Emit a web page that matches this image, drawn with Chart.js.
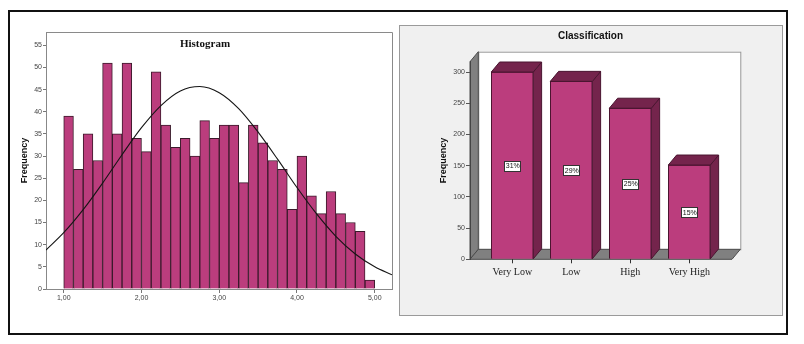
<!DOCTYPE html>
<html><head><meta charset="utf-8">
<script src="https://cdn.jsdelivr.net/npm/chart.js@4.4.1/dist/chart.umd.min.js"></script>
<style>
html,body{margin:0;padding:0;background:#fff;width:804px;height:344px;overflow:hidden}
#frame{position:absolute;left:8px;top:10px;width:780px;height:325px;border:2px solid #111;box-sizing:border-box}
#panel{position:absolute;left:399px;top:25px;width:384px;height:291px;background:#f0f0f0;border:1px solid #9a9a9a;box-sizing:border-box}
#c1{position:absolute;left:0;top:0}
#c2{position:absolute;left:396px;top:0}
</style></head><body>
<div id="frame"></div><div id="panel"></div>
<canvas id="c1" width="396" height="344"></canvas>
<canvas id="c2" width="408" height="344"></canvas>
<script>
// ---- Histogram data ----
const histBinStart = 1.0;
const histBinWidth = 0.125;
const histCounts = [39,27,35,29,51,35,51,34,31,49,37,32,34,30,38,34,37,37,24,37,33,29,27,18,30,21,17,22,17,15,13,2];
const histXTicks = [1,2,3,4,5];
// normal curve
const curveX = [0.772,1.0,1.25,1.5,1.75,2.0,2.25,2.5,2.75,3.0,3.25,3.5,3.75,4.0,4.25,4.5,4.75,5.0,5.222];
const curveY = [8.8,12.7,17.9,23.9,30.3,36.4,41.4,44.7,45.7,44.3,40.7,35.4,29.3,22.9,17.0,11.9,7.9,5.0,3.2];

// ---- Classification data ----
const classCategories = ['Very Low','Low','High','Very High'];
const classCounts = [300,285,242,151];
const classPercents = ['31%','29%','25%','15%'];

const BAR = '#bb3d7d', BAR_DARK = '#74244c', BAR_EDGE = '#4a1530';

// ---------- Histogram chart ----------
const histCenters = histCounts.map((_, i) => histBinStart + histBinWidth * (i + 0.5));
const histFrame = {
  id:'histFrame',
  afterDraw(chart){
    const {ctx, chartArea:a} = chart;
    ctx.save();
    ctx.strokeStyle = '#8a8a8a'; ctx.lineWidth = 1;
    ctx.beginPath();
    ctx.moveTo(a.left, a.top + 0.5); ctx.lineTo(a.right + 0.5, a.top + 0.5); ctx.lineTo(a.right + 0.5, a.bottom);
    ctx.stroke();
    ctx.fillStyle = '#111';
    ctx.font = 'bold 11px "Liberation Serif", "Times New Roman", serif';
    ctx.textAlign = 'center'; ctx.textBaseline = 'middle';
    ctx.fillText('Histogram', 205, 44);
    ctx.restore();
  }
};
new Chart(document.getElementById('c1'), {
  type:'bar',
  data:{datasets:[
    {type:'line', data: curveX.map((x,i)=>({x, y:curveY[i]})), borderColor:'#151515', borderWidth:1.1,
     pointRadius:0, cubicInterpolationMode:'monotone', order:0},
    {type:'bar', data: histCenters.map((x,i)=>({x, y:histCounts[i]})), backgroundColor:BAR, borderColor:'#3b1a2b',
     borderWidth:1, barPercentage:1, categoryPercentage:1, order:1}
  ]},
  options:{
    responsive:false, animation:false, events:[],
    layout:{padding:{left:0, top:32, right:4, bottom:35}},
    plugins:{legend:{display:false}, tooltip:{enabled:false}},
    scales:{
      x:{type:'linear', min:0.772, max:5.222, offset:false,
         afterBuildTicks:s=>{ s.ticks = histXTicks.map(v=>({value:v})); },
         ticks:{callback:v=>v.toFixed(2).replace('.',','), font:{size:7, family:'Arial'}, color:'#444', padding:1, maxRotation:0},
         grid:{drawOnChartArea:false, offset:false, tickLength:4, color:'#777'}, border:{color:'#888'},
         afterFit:s=>{s.height=20;}},
      y:{min:0, max:58,
         ticks:{stepSize:5, includeBounds:false, font:{size:7, family:'Arial'}, color:'#444', padding:1},
         grid:{drawOnChartArea:false, tickLength:3, color:'#777'}, border:{color:'#888'},
         title:{display:true, text:'Frequency', font:{size:9, weight:'bold', family:'Arial'}, color:'#111', padding:{top:19,bottom:0}},
         afterFit:s=>{s.width=46;}}
    }
  },
  plugins:[histFrame]
});

// ---------- Classification 3D bar chart ----------
const DX = 8.3, DY = 10;
const threeD = {
  id:'threeD',
  beforeDraw(chart){
    const {ctx, chartArea:a} = chart;
    ctx.save();
    // back wall
    ctx.fillStyle = '#fff';
    ctx.fillRect(a.left + DX, a.top - DY, a.right - a.left, a.bottom - a.top);
    ctx.strokeStyle = '#999'; ctx.lineWidth = 1;
    ctx.strokeRect(a.left + DX + 0.5, a.top - DY + 0.5, a.right - a.left, a.bottom - a.top);
    // left wall
    ctx.fillStyle = '#808080'; ctx.strokeStyle = '#4a4a4a';
    ctx.beginPath();
    ctx.moveTo(a.left, a.bottom); ctx.lineTo(a.left, a.top);
    ctx.lineTo(a.left + DX, a.top - DY); ctx.lineTo(a.left + DX, a.bottom - DY);
    ctx.closePath(); ctx.fill(); ctx.stroke();
    // floor
    ctx.beginPath();
    ctx.moveTo(a.left, a.bottom); ctx.lineTo(a.right, a.bottom);
    ctx.lineTo(a.right + DX, a.bottom - DY); ctx.lineTo(a.left + DX, a.bottom - DY);
    ctx.closePath(); ctx.fill(); ctx.stroke();
    ctx.restore();
  },
  afterDatasetsDraw(chart){
    const {ctx} = chart;
    const meta = chart.getDatasetMeta(0);
    ctx.save();
    ctx.lineWidth = 1; ctx.strokeStyle = BAR_EDGE; ctx.fillStyle = BAR_DARK;
    meta.data.forEach((bar, i) => {
      const {x, y, base, width} = bar.getProps(['x','y','base','width'], true);
      const l = x - width/2, r = x + width/2;
      // side
      ctx.beginPath();
      ctx.moveTo(r, y); ctx.lineTo(r + DX, y - DY); ctx.lineTo(r + DX, base - DY); ctx.lineTo(r, base);
      ctx.closePath(); ctx.fill(); ctx.stroke();
      // top
      ctx.beginPath();
      ctx.moveTo(l, y); ctx.lineTo(l + DX, y - DY); ctx.lineTo(r + DX, y - DY); ctx.lineTo(r, y);
      ctx.closePath(); ctx.fill(); ctx.stroke();
    });
    // percent labels
    ctx.font = '7px Arial'; ctx.textAlign = 'center'; ctx.textBaseline = 'middle';
    const ys = chart.scales.y;
    meta.data.forEach((bar, i) => {
      const cx = bar.x, cy = ys.getPixelForValue(classCounts[i] / 2);
      const w = 16, h = 10;
      ctx.fillStyle = '#fff'; ctx.strokeStyle = '#333';
      ctx.fillRect(Math.round(cx - w/2), Math.round(cy - h/2), w, h);
      ctx.strokeRect(Math.round(cx - w/2) + 0.5, Math.round(cy - h/2) + 0.5, w, h);
      ctx.fillStyle = '#111';
      ctx.fillText(classPercents[i], cx + 0.5, cy + 0.5);
    });
    // title
    ctx.fillStyle = '#111';
    ctx.font = 'bold 10px Arial';
    ctx.fillText('Classification', 590.5 - 396, 36);
    ctx.restore();
  }
};
new Chart(document.getElementById('c2'), {
  type:'bar',
  data:{datasets:[{
    data: classCounts.map((v,i)=>({x:i, y:v})),
    backgroundColor:BAR, borderColor:BAR_EDGE, borderWidth:1, barThickness:42
  }]},
  options:{
    responsive:false, animation:false, events:[],
    layout:{padding:{left:0, top:61.7, right:72, bottom:64.7}},
    plugins:{legend:{display:false}, tooltip:{enabled:false}},
    scales:{
      x:{type:'linear', min:-0.717, max:3.723, offset:false,
         afterBuildTicks:s=>{ s.ticks = classCategories.map((_,i)=>({value:i})); },
         ticks:{callback:(v)=>classCategories[v], font:{size:10, family:'"Liberation Serif", "Times New Roman", serif'}, color:'#222', padding:3, maxRotation:0, autoSkip:false},
         grid:{drawOnChartArea:false, offset:false, tickLength:4, color:'#333'}, border:{display:false},
         afterFit:s=>{s.height=20;}},
      y:{min:0, max:316.5,
         ticks:{stepSize:50, includeBounds:false, font:{size:7, family:'Arial'}, color:'#444', padding:1},
         grid:{drawOnChartArea:false, tickLength:4, color:'#555'}, border:{color:'#444'},
         title:{display:true, text:'Frequency', font:{size:9, weight:'bold', family:'Arial'}, color:'#111', padding:{top:42,bottom:0}},
         afterFit:s=>{s.width=74;}}
    }
  },
  plugins:[threeD]
});
</script>
</body></html>
